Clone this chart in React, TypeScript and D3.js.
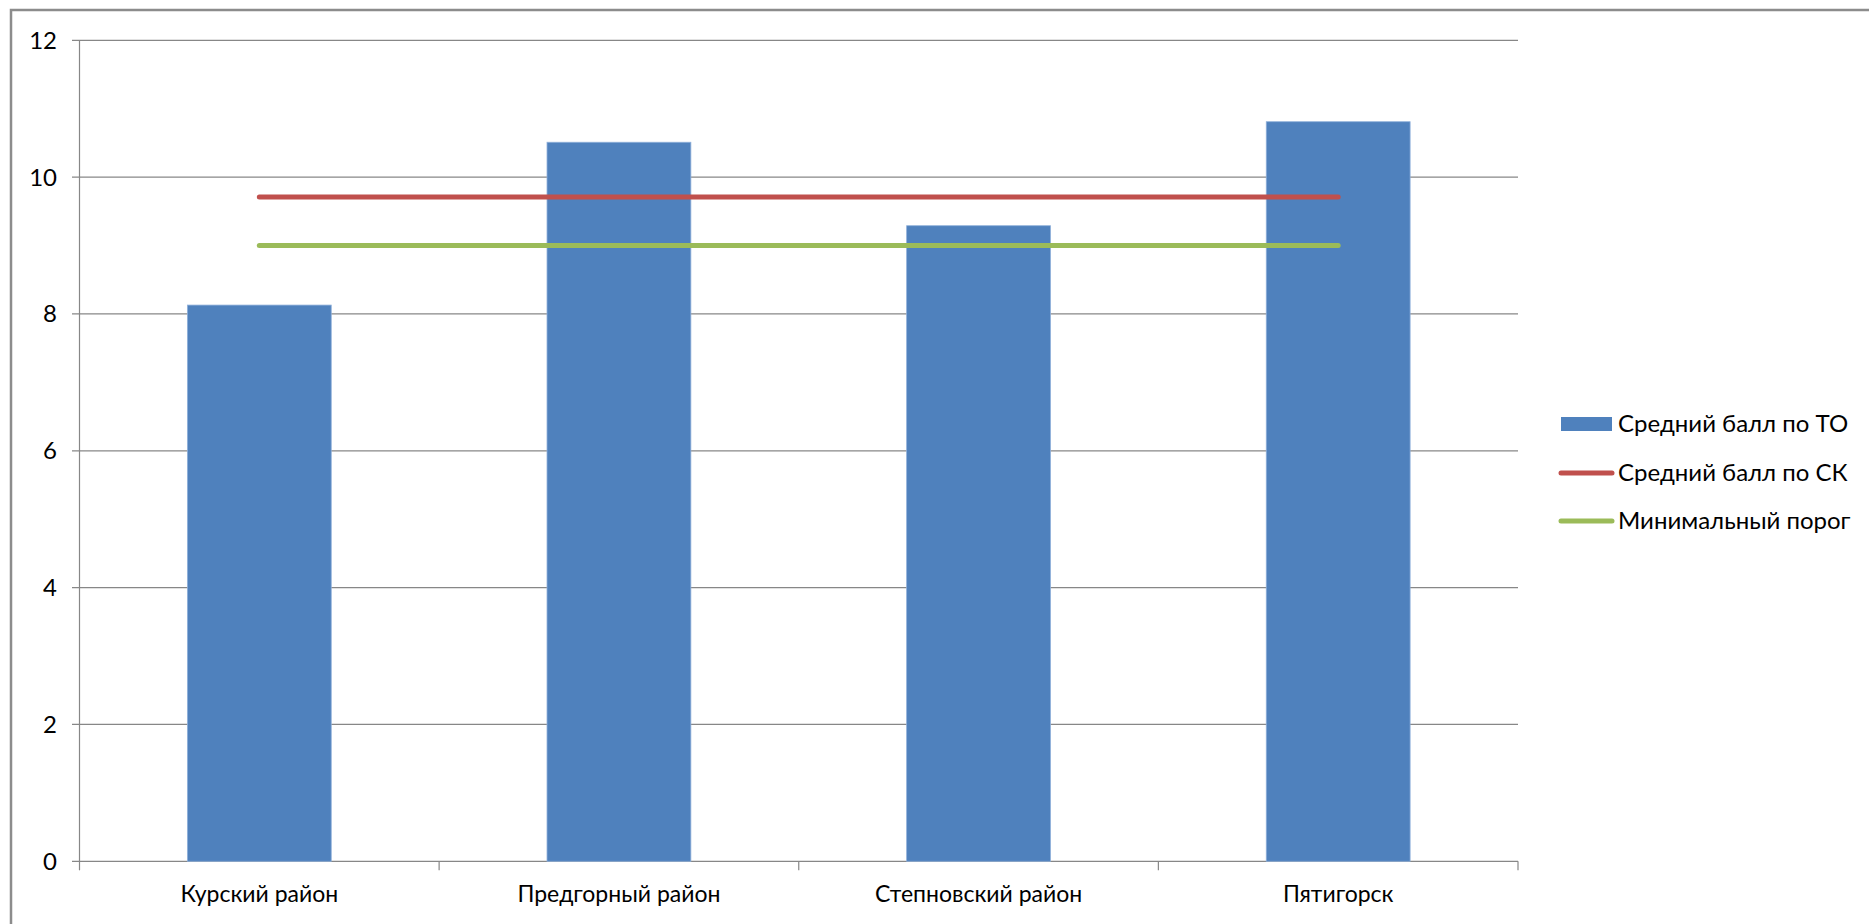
import React from "react";
import * as d3 from "d3";

const categories = ["Курский район", "Предгорный район", "Степновский район", "Пятигорск"];
const avgTO = [8.13, 10.51, 9.29, 10.81];
const avgSK = [9.71, 9.71, 9.71, 9.71];
const minThreshold = [9.0, 9.0, 9.0, 9.0];
const yTicks = [0, 2, 4, 6, 8, 10, 12];
const legendLabels = ["Средний балл по ТО", "Средний балл по СК", "Минимальный порог"];

const W = 1869;
const H = 924;
const plot = { left: 79.5, right: 1518, top: 40.3, bottom: 861.3 };
const FONT = "Lato, 'Open Sans', sans-serif";
const BLUE = "#4F81BD";
const RED = "#C0504D";
const GREEN = "#9BBB59";
const GRID = "#878787";

export default function App() {
  const x = d3.scaleBand<string>().domain(categories).range([plot.left, plot.right]).paddingInner(0.6).paddingOuter(0.3);
  const xc = d3.scaleBand<string>().domain(categories).range([plot.left, plot.right]);
  const y = d3.scaleLinear().domain([0, 12]).range([plot.bottom, plot.top]);
  const center = (c: string) => (xc(c) as number) + xc.bandwidth() / 2;
  const line = d3
    .line<number>()
    .x((_, i) => center(categories[i]))
    .y((d) => y(d));

  const boundaries = categories.map((c) => xc(c) as number).concat([plot.right]);
  const legendX = 1559;
  const legendYs = [424, 473, 521];

  return (
    <svg width={W} height={H} style={{ position: "absolute", left: 0, top: 0, background: "#fff" }}>
      <rect x={11} y={10} width={W + 10} height={H + 10} fill="#fff" stroke="#8c8c8c" strokeWidth={2.5} />
      {yTicks.map((t) => (
        <g key={t}>
          <line x1={72} x2={plot.right} y1={y(t)} y2={y(t)} stroke={GRID} strokeWidth={1.2} />
          <text x={57} y={y(t)} dy="0.35em" textAnchor="end" fontFamily={FONT} fontSize={24} fill="#000">
            {t}
          </text>
        </g>
      ))}
      <line x1={plot.left} x2={plot.left} y1={plot.top} y2={plot.bottom} stroke={GRID} strokeWidth={1.2} />
      {boundaries.map((b, i) => (
        <line key={i} x1={b} x2={b} y1={plot.bottom} y2={plot.bottom + 9} stroke={GRID} strokeWidth={1.2} />
      ))}
      {categories.map((c, i) => (
        <rect
          key={c}
          x={x(c)}
          y={y(avgTO[i])}
          width={x.bandwidth()}
          height={y(0) - y(avgTO[i])}
          fill={BLUE}
          stroke="#8fb0da"
          strokeWidth={0.8}
        />
      ))}
      <path d={line(avgSK) || ""} fill="none" stroke={RED} strokeWidth={5} strokeLinecap="round" />
      <path d={line(minThreshold) || ""} fill="none" stroke={GREEN} strokeWidth={5} strokeLinecap="round" />
      {categories.map((c) => (
        <text key={c} x={center(c)} y={894} dy="0.35em" textAnchor="middle" fontFamily={FONT} fontSize={23} fill="#000">
          {c}
        </text>
      ))}
      <rect x={legendX + 2} y={legendYs[0] - 7} width={51} height={14} fill={BLUE} />
      <line x1={legendX + 2} x2={legendX + 53} y1={legendYs[1]} y2={legendYs[1]} stroke={RED} strokeWidth={5} strokeLinecap="round" />
      <line x1={legendX + 2} x2={legendX + 53} y1={legendYs[2]} y2={legendYs[2]} stroke={GREEN} strokeWidth={5} strokeLinecap="round" />
      {legendLabels.map((l, i) => (
        <text key={l} x={1618} y={legendYs[i]} dy="0.35em" fontFamily={FONT} fontSize={24} fill="#000">
          {l}
        </text>
      ))}
    </svg>
  );
}
